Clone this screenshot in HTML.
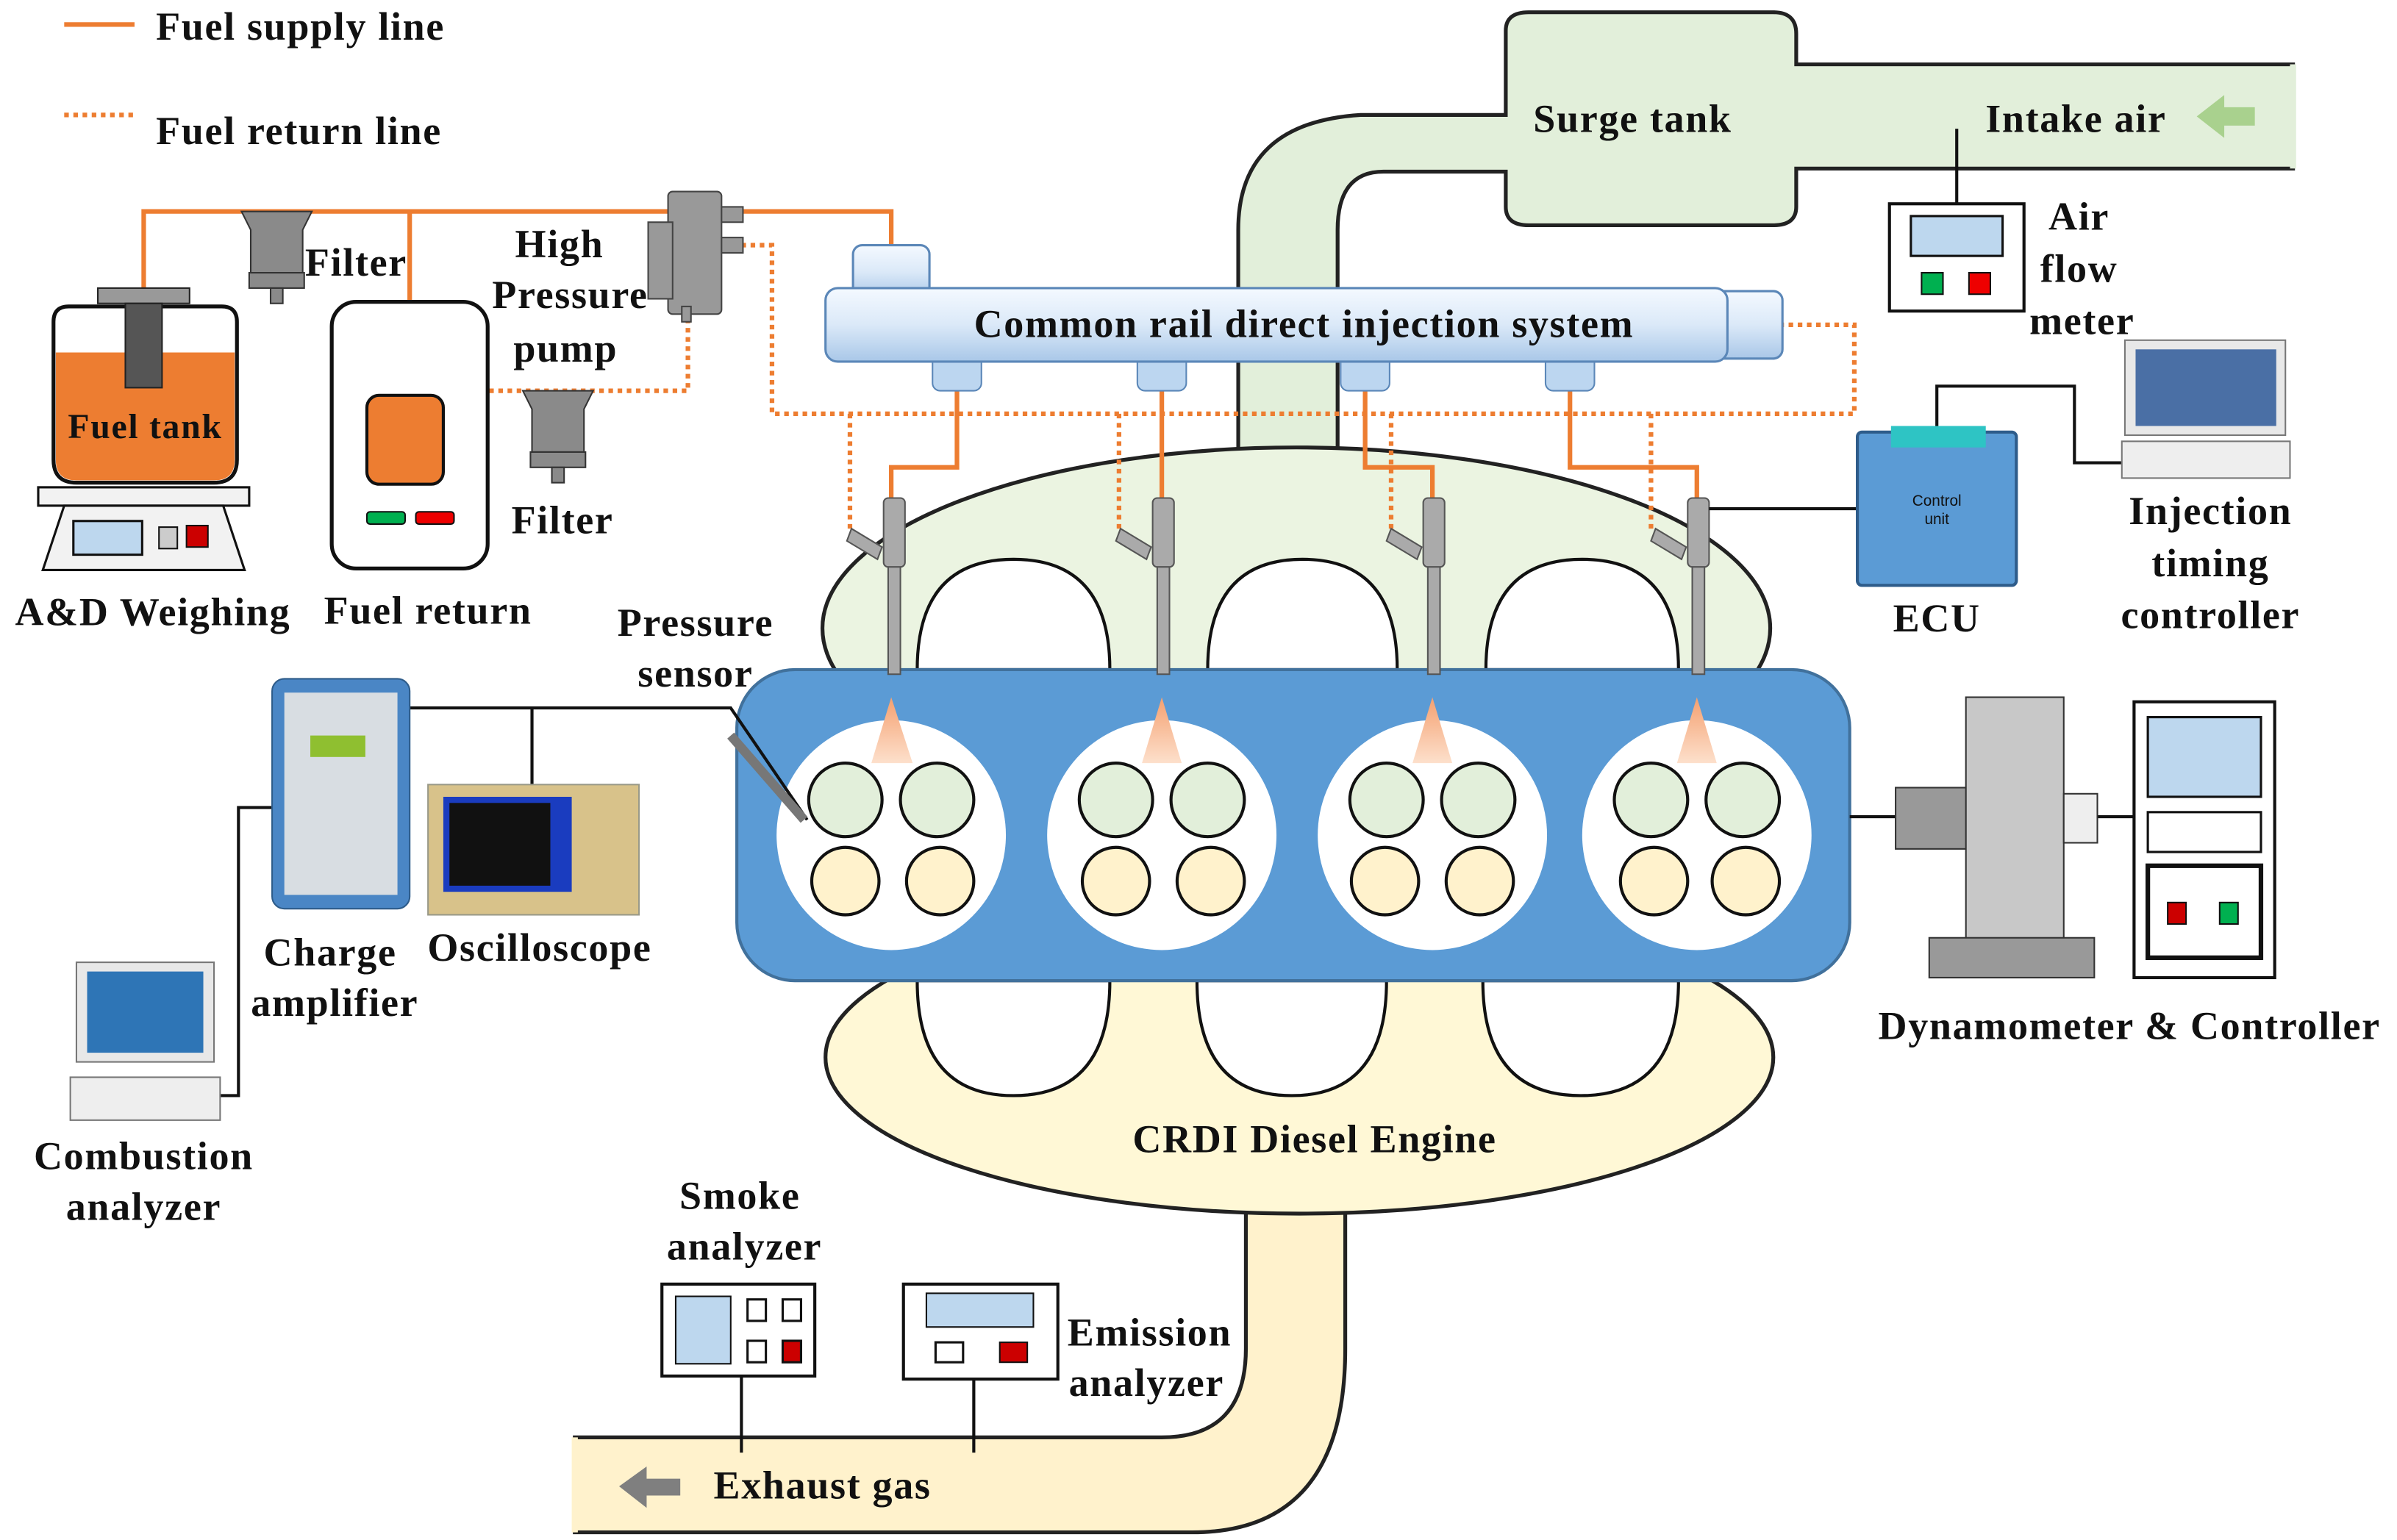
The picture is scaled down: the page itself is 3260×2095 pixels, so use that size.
<!DOCTYPE html>
<html><head><meta charset="utf-8"><style>html,body{margin:0;padding:0;background:#fff}svg{display:block}text{font-family:"Liberation Serif",serif;font-weight:bold;fill:#111;letter-spacing:0.8px}</style></head><body>
<svg width="3260" height="2095" viewBox="0 0 1568 1005" preserveAspectRatio="none" xmlns="http://www.w3.org/2000/svg">
<defs>
<linearGradient id="rail" x1="0" y1="0" x2="0" y2="1"><stop offset="0" stop-color="#f4f9ff"/><stop offset="0.5" stop-color="#dbe9f8"/><stop offset="1" stop-color="#a9c7e8"/></linearGradient>
<linearGradient id="spray" x1="0" y1="0" x2="0" y2="1"><stop offset="0" stop-color="#f4a070"/><stop offset="1" stop-color="#fde0cc"/></linearGradient>
</defs>
<line x1="42" y1="16" x2="88" y2="16" stroke="#ed7d31" stroke-width="3"/>
<text x="102" y="26" font-size="26">Fuel supply line</text>
<line x1="42" y1="75" x2="88" y2="75" stroke="#ed7d31" stroke-width="3" stroke-dasharray="3,3"/>
<text x="102" y="94" font-size="26">Fuel return line</text>

<path d="M810,300 L810,150 Q810,80 890,75 L985,75 L985,20 Q985,8 1000,8 L1160,8 Q1175,8 1175,22 L1175,42 L1500,42 L1500,110 L1175,110 L1175,135 Q1175,147 1160,147 L1000,147 Q985,147 985,135 L985,112 L905,112 Q875,112 875,150 L875,300 Z" fill="#e2efda" stroke="#222" stroke-width="2.5"/>
<line x1="1500" y1="42" x2="1500" y2="110" stroke="#e2efda" stroke-width="4"/>
<text x="1068" y="86" font-size="26" text-anchor="middle">Surge tank</text>
<text x="1358" y="86" font-size="26" text-anchor="middle">Intake air</text>
<path d="M1437,76 l18,-14 v8 h20 v12 h-20 v8 z" fill="#a9d18e"/>
<line x1="1280" y1="84" x2="1280" y2="133" stroke="#111" stroke-width="2"/>
<rect x="1236" y="133" width="88" height="70" fill="#fff" stroke="#111" stroke-width="2"/>
<rect x="1250" y="141" width="60" height="26" fill="#bdd7ee" stroke="#111" stroke-width="1.5"/>
<rect x="1257" y="178" width="14" height="14" fill="#00b050" stroke="#111"/>
<rect x="1288" y="178" width="14" height="14" fill="#e00" stroke="#111"/>
<text x="1360" y="150" font-size="26" text-anchor="middle">Air</text>
<text x="1360" y="184" font-size="26" text-anchor="middle">flow</text>
<text x="1362" y="218" font-size="26" text-anchor="middle">meter</text>

<ellipse cx="848" cy="410" rx="310" ry="118" fill="#ebf4e1" stroke="#222" stroke-width="2.5"/>
<path d="M815,770 L815,880 Q815,938 760,938 L376,938 L376,1000 L780,1000 Q880,1000 880,880 L880,770 Z" fill="#fff2cc" stroke="#222" stroke-width="2.5"/>
<line x1="376" y1="938" x2="376" y2="1000" stroke="#fff2cc" stroke-width="4"/>
<ellipse cx="850" cy="690" rx="310" ry="102" fill="#fff8d6" stroke="#222" stroke-width="2.5"/>
<path d="M600,437 Q600,365 663,365 Q726,365 726,437 Z M790,437 Q790,365 852,365 Q914,365 914,437 Z M972,437 Q972,365 1035,365 Q1098,365 1098,437 Z" fill="#fff" stroke="#111" stroke-width="2"/>
<path d="M600,640 Q600,715 663,715 Q726,715 726,640 Z M783,640 Q783,715 845,715 Q907,715 907,640 Z M970,640 Q970,715 1034,715 Q1098,715 1098,640 Z" fill="#fff" stroke="#111" stroke-width="2"/>
<rect x="482" y="437" width="728" height="203" rx="38" fill="#5b9bd5" stroke="#41719c" stroke-width="2"/>
<g stroke="#111" stroke-width="2">
<circle cx="583" cy="545" r="75" fill="#fff" stroke="none"/>
<circle cx="760" cy="545" r="75" fill="#fff" stroke="none"/>
<circle cx="937" cy="545" r="75" fill="#fff" stroke="none"/>
<circle cx="1110" cy="545" r="75" fill="#fff" stroke="none"/>
<g fill="#e2efda"><circle cx="553" cy="522" r="24"/><circle cx="613" cy="522" r="24"/><circle cx="730" cy="522" r="24"/><circle cx="790" cy="522" r="24"/><circle cx="907" cy="522" r="24"/><circle cx="967" cy="522" r="24"/><circle cx="1080" cy="522" r="24"/><circle cx="1140" cy="522" r="24"/></g>
<g fill="#fff2cc"><circle cx="553" cy="575" r="22"/><circle cx="615" cy="575" r="22"/><circle cx="730" cy="575" r="22"/><circle cx="792" cy="575" r="22"/><circle cx="906" cy="575" r="22"/><circle cx="968" cy="575" r="22"/><circle cx="1082" cy="575" r="22"/><circle cx="1142" cy="575" r="22"/></g>
</g>
<g fill="url(#spray)"><path d="M583,455 L570,498 L597,498Z"/><path d="M760,455 L747,498 L773,498Z"/><path d="M937,455 L924,498 L950,498Z"/><path d="M1110,455 L1097,498 L1123,498Z"/></g>
<text x="860" y="752" font-size="26" text-anchor="middle">CRDI Diesel Engine</text>

<g fill="none" stroke="#ed7d31" stroke-width="3">
<path d="M94,190 V138 H583 V165"/>
<path d="M268,138 V225 H235 V240 H268 V258"/>
<path d="M626,235 V305 H583 V330"/><path d="M760,235 V330"/><path d="M893,235 V305 H937 V330"/><path d="M1027,235 V305 H1110 V330"/>
</g>
<g fill="none" stroke="#ed7d31" stroke-width="3" stroke-dasharray="3,3">
<path d="M290,285 H300 V255 H450 V195"/>
<path d="M485,160 H505 V270 H1213 V212 H1165"/>
<path d="M556,270 V345"/><path d="M732,270 V345"/><path d="M910,270 V345"/><path d="M1080,270 V345"/>
</g>
<rect x="558" y="160" width="50" height="35" rx="6" fill="url(#rail)" stroke="#5b87b8" stroke-width="1.5"/>
<rect x="610" y="225" width="32" height="30" rx="5" fill="#bcd6f0" stroke="#5b87b8"/>
<rect x="744" y="225" width="32" height="30" rx="5" fill="#bcd6f0" stroke="#5b87b8"/>
<rect x="877" y="225" width="32" height="30" rx="5" fill="#bcd6f0" stroke="#5b87b8"/>
<rect x="1011" y="225" width="32" height="30" rx="5" fill="#bcd6f0" stroke="#5b87b8"/>
<rect x="1120" y="190" width="46" height="44" rx="6" fill="url(#rail)" stroke="#5b87b8" stroke-width="1.5"/>
<rect x="540" y="188" width="590" height="48" rx="8" fill="url(#rail)" stroke="#5b87b8" stroke-width="1.5"/>
<text x="853" y="220" font-size="26" text-anchor="middle">Common rail direct injection system</text>
<g fill="#aaa" stroke="#555" stroke-width="1">
<g><rect x="578" y="325" width="14" height="45" rx="3"/><rect x="581" y="370" width="8" height="70"/><path d="M557,345 l20,12 -3,8 -20,-12z"/></g>
<g><rect x="754" y="325" width="14" height="45" rx="3"/><rect x="757" y="370" width="8" height="70"/><path d="M733,345 l20,12 -3,8 -20,-12z"/></g>
<g><rect x="931" y="325" width="14" height="45" rx="3"/><rect x="934" y="370" width="8" height="70"/><path d="M910,345 l20,12 -3,8 -20,-12z"/></g>
<g><rect x="1104" y="325" width="14" height="45" rx="3"/><rect x="1107" y="370" width="8" height="70"/><path d="M1083,345 l20,12 -3,8 -20,-12z"/></g>
</g>
<g fill="#999" stroke="#444" stroke-width="1">
<rect x="437" y="125" width="35" height="80" rx="3"/><rect x="424" y="145" width="16" height="50"/><rect x="472" y="135" width="14" height="10"/><rect x="472" y="155" width="14" height="10"/><rect x="446" y="200" width="6" height="10"/>
</g>
<text x="366" y="168" font-size="26" text-anchor="middle">High</text>
<text x="373" y="201" font-size="26" text-anchor="middle">Pressure</text>
<text x="370" y="236" font-size="26" text-anchor="middle">pump</text>
<g fill="#8a8a8a" stroke="#333" stroke-width="1">
<path d="M158,138 h46 l-6,12 v28 h-34 v-28z"/><rect x="163" y="178" width="36" height="10"/><rect x="177" y="188" width="8" height="10"/>
<path d="M342,255 h46 l-6,12 v28 h-34 v-28z"/><rect x="347" y="295" width="36" height="10"/><rect x="361" y="305" width="8" height="10"/>
</g>
<text x="233" y="180" font-size="26" text-anchor="middle">Filter</text>
<text x="368" y="348" font-size="26" text-anchor="middle">Filter</text>
<rect x="64" y="188" width="60" height="10" fill="#999" stroke="#222"/>
<path d="M35,210 Q35,200 45,200 L145,200 Q155,200 155,210 L155,300 Q155,315 140,315 L50,315 Q35,315 35,300 Z" fill="#fff" stroke="#111" stroke-width="2.5"/>
<path d="M36.5,230 L153.5,230 L153.5,300 Q153.5,313.5 140,313.5 L50,313.5 Q36.5,313.5 36.5,300 Z" fill="#ed7d31"/>
<rect x="82" y="198" width="24" height="55" fill="#555" stroke="#222"/>
<text x="95" y="286" font-size="23" text-anchor="middle">Fuel tank</text>
<rect x="25" y="318" width="138" height="12" fill="#f2f2f2" stroke="#111" stroke-width="1.5"/>
<path d="M42,330 L146,330 L160,372 L28,372 Z" fill="#f2f2f2" stroke="#111" stroke-width="1.5"/>
<rect x="48" y="340" width="45" height="22" fill="#bdd7ee" stroke="#111" stroke-width="1.5"/>
<rect x="104" y="344" width="12" height="14" fill="#ccc" stroke="#111"/><rect x="122" y="343" width="14" height="14" fill="#c00" stroke="#111"/>
<text x="100" y="408" font-size="26" text-anchor="middle">A&amp;D Weighing</text>
<rect x="217" y="197" width="102" height="174" rx="16" fill="#fff" stroke="#111" stroke-width="2.5"/>
<rect x="240" y="258" width="50" height="58" rx="8" fill="#ed7d31" stroke="#111" stroke-width="2"/>
<rect x="240" y="334" width="25" height="8" rx="2" fill="#00b050" stroke="#111"/><rect x="272" y="334" width="25" height="8" rx="2" fill="#e00" stroke="#111"/>
<text x="280" y="407" font-size="26" text-anchor="middle">Fuel return</text>
<path d="M1118,332 H1215 M1267,282 V252 H1357 V302 H1390" fill="none" stroke="#111" stroke-width="2"/>
<rect x="1215" y="282" width="104" height="100" rx="3" fill="#5b9bd5" stroke="#2e5c8a" stroke-width="2"/>
<rect x="1237" y="278" width="62" height="14" fill="#2ec4c4"/>
<text x="1267" y="330" font-size="10" text-anchor="middle" style="font-family:'Liberation Sans';font-weight:normal;letter-spacing:0">Control</text>
<text x="1267" y="342" font-size="10" text-anchor="middle" style="font-family:'Liberation Sans';font-weight:normal;letter-spacing:0">unit</text>
<text x="1267" y="412" font-size="26" text-anchor="middle">ECU</text>
<rect x="1390" y="222" width="105" height="62" fill="#e8e8e8" stroke="#777"/>
<rect x="1397" y="228" width="92" height="50" fill="#4a6fa5"/>
<rect x="1388" y="288" width="110" height="24" fill="#eee" stroke="#777"/>
<text x="1446" y="342" font-size="26" text-anchor="middle">Injection</text>
<text x="1446" y="376" font-size="26" text-anchor="middle">timing</text>
<text x="1446" y="410" font-size="26" text-anchor="middle">controller</text>
<path d="M267,462 H478 L528,535 M348,462 V512 M180,527 H156 V715 H143" fill="none" stroke="#111" stroke-width="2"/>
<line x1="478" y1="480" x2="526" y2="535" stroke="#777" stroke-width="6"/>
<text x="455" y="415" font-size="26" text-anchor="middle">Pressure</text>
<text x="455" y="448" font-size="26" text-anchor="middle">sensor</text>
<rect x="178" y="443" width="90" height="150" rx="8" fill="#4a86c5" stroke="#2e5c8a"/>
<rect x="186" y="452" width="74" height="132" fill="#d8dde2"/>
<rect x="203" y="480" width="36" height="14" fill="#8fbf30"/>
<text x="216" y="630" font-size="26" text-anchor="middle">Charge</text>
<text x="219" y="663" font-size="26" text-anchor="middle">amplifier</text>
<rect x="280" y="512" width="138" height="85" fill="#d8c28a" stroke="#998"/>
<rect x="290" y="520" width="84" height="62" fill="#1a3cbf"/><rect x="294" y="524" width="66" height="54" fill="#111"/>
<text x="353" y="627" font-size="26" text-anchor="middle">Oscilloscope</text>
<rect x="50" y="628" width="90" height="65" fill="#e8e8e8" stroke="#777"/>
<rect x="57" y="634" width="76" height="53" fill="#2e75b6"/>
<rect x="46" y="703" width="98" height="28" fill="#eee" stroke="#777"/>
<text x="94" y="763" font-size="26" text-anchor="middle">Combustion</text>
<text x="94" y="796" font-size="26" text-anchor="middle">analyzer</text>
<path d="M1210,533 H1240 M1372,533 H1396" stroke="#111" stroke-width="2"/>
<rect x="1240" y="514" width="48" height="40" fill="#999" stroke="#333"/>
<rect x="1286" y="455" width="64" height="160" fill="#c8c8c8" stroke="#333"/>
<rect x="1262" y="612" width="108" height="26" fill="#999" stroke="#333"/>
<rect x="1350" y="518" width="22" height="32" fill="#eee" stroke="#333"/>
<rect x="1396" y="458" width="92" height="180" fill="#fff" stroke="#111" stroke-width="2"/>
<rect x="1405" y="468" width="74" height="52" fill="#bdd7ee" stroke="#111" stroke-width="1.5"/>
<rect x="1405" y="530" width="74" height="26" fill="#fff" stroke="#111" stroke-width="1.5"/>
<rect x="1405" y="565" width="74" height="60" fill="#fff" stroke="#111" stroke-width="3"/>
<rect x="1418" y="589" width="12" height="14" fill="#c00" stroke="#111"/><rect x="1452" y="589" width="12" height="14" fill="#00b050" stroke="#111"/>
<text x="1393" y="678" font-size="26" text-anchor="middle">Dynamometer &amp; Controller</text>
<path d="M485,898 V948 M637,900 V948" stroke="#111" stroke-width="2"/>
<rect x="433" y="838" width="100" height="60" fill="#fff" stroke="#111" stroke-width="2"/>
<rect x="442" y="846" width="36" height="44" fill="#bdd7ee" stroke="#111"/>
<rect x="489" y="848" width="12" height="14" fill="#fff" stroke="#111" stroke-width="1.5"/><rect x="512" y="848" width="12" height="14" fill="#fff" stroke="#111" stroke-width="1.5"/>
<rect x="489" y="875" width="12" height="14" fill="#fff" stroke="#111" stroke-width="1.5"/><rect x="512" y="875" width="12" height="14" fill="#c00" stroke="#111" stroke-width="1.5"/>
<text x="484" y="789" font-size="26" text-anchor="middle">Smoke</text>
<text x="487" y="822" font-size="26" text-anchor="middle">analyzer</text>
<rect x="591" y="838" width="101" height="62" fill="#fff" stroke="#111" stroke-width="2"/>
<rect x="606" y="844" width="70" height="22" fill="#bdd7ee" stroke="#111"/>
<rect x="612" y="876" width="18" height="13" fill="#fff" stroke="#111" stroke-width="1.5"/><rect x="654" y="876" width="18" height="13" fill="#c00" stroke="#111"/>
<text x="752" y="878" font-size="26" text-anchor="middle">Emission</text>
<text x="750" y="911" font-size="26" text-anchor="middle">analyzer</text>
<path d="M405,970 l18,-13 v8 h22 v11 h-22 v8 z" fill="#7f7f7f"/>
<text x="538" y="978" font-size="26" text-anchor="middle">Exhaust gas</text>
</svg>
</body></html>
